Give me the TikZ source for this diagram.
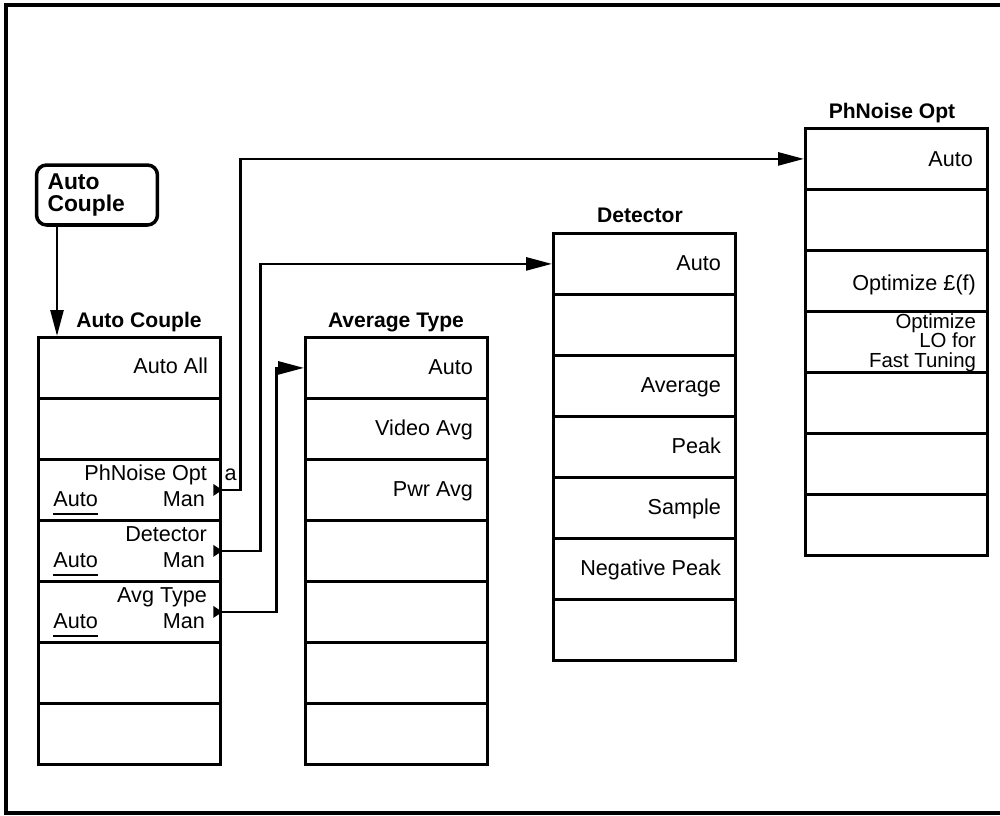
\documentclass[tikz,border=0pt]{standalone}
\usepackage{fontspec}
\setmainfont{Liberation Sans}
\usetikzlibrary{arrows.meta,positioning,calc}
\tikzset{
  softkey/.style={draw,line width=1.6pt,minimum width=3.65cm,minimum height=1.22cm,inner sep=0pt,anchor=north west},
  keytxt/.style={font=\fontsize{12.3}{10.2}\selectfont,inner sep=0pt,anchor=base east,align=right},
  menutitle/.style={font=\bfseries\fontsize{12}{14}\selectfont,inner sep=0pt,anchor=base},
  hardkey/.style={draw,line width=2pt,rounded corners=0.2cm,minimum width=2.42cm,minimum height=1.2cm,
    text width=1.98cm,align=left,inner xsep=0.22cm,font=\bfseries\fontsize{13}{12}\selectfont},
  link/.style={line width=1.5pt,-{Triangle[length=0.52cm,width=0.26cm]}}
}
\begin{document}
\begin{tikzpicture}[x=0.02cm,y=-0.02cm]
\useasboundingbox (0,0) rectangle (1000,815);
\draw[line width=2.6pt] (1000,5) -- (6,5) -- (6,813) -- (1000,813);
\foreach \i in {1,...,7}{
  \node[softkey] (ac\i) at (37,{336+61*(\i-1)}) {};
  \node[softkey] (at\i) at (304,{336+61*(\i-1)}) {};
  \node[softkey] (det\i) at (552,{232+61*(\i-1)}) {};
  \node[softkey] (pn\i) at (804,{127+61*(\i-1)}) {};
}
\node[menutitle] (acTitle) at (139,327) {Auto Couple};
\node[menutitle] (atTitle) at (396,327) {Average Type};
\node[menutitle] (detTitle) at (640,222) {Detector};
\node[menutitle] (pnTitle) at (892,118) {PhNoise Opt};
\node[hardkey] (btn) at (97,195) {Auto\\Couple};
\coordinate (drop) at ($(ac1.north west)+(20,0)$);
\draw[link] (btn.south -| drop) -- (drop);
\node[keytxt] (acAll) at ($(ac1.north east)+(-14,37)$) {Auto All};
\foreach \r/\t in {3/PhNoise Opt,4/Detector,5/Avg Type}{
  \node[keytxt] (acTop\r) at ($(ac\r.north east)+(-15,22)$) {\t};
  \node[keytxt] (acMan\r) at ($(ac\r.north east)+(-17,48)$) {Man};
  \node[keytxt,anchor=base west] (acAuto\r) at ($(ac\r.north west)+(16,48)$) {Auto};
  \draw[line width=1.1pt] ($(acAuto\r.base west)+(0,8)$) -- ($(acAuto\r.base east)+(0,8)$);
  \fill (ac\r.east) -- ++(-9,-6) -- ++(0,12) -- cycle;
}
\node[keytxt,anchor=base west] (acMark) at ($(ac3.north east)+(2,22)$) {a};
\foreach \r/\t in {1/Auto,2/Video Avg,3/Pwr Avg}{
  \node[keytxt] (atKey\r) at ($(at\r.north east)+(-16,38)$) {\t};
}
\foreach \r/\t in {1/Auto,3/Average,4/Peak,5/Sample,6/Negative Peak}{
  \node[keytxt] (detKey\r) at ($(det\r.north east)+(-16,38)$) {\t};
}
\node[keytxt] (pnKey1) at ($(pn1.north east)+(-16,39)$) {Auto};
\node[keytxt] (pnKey3) at ($(pn3.north east)+(-13,41)$) {Optimize £(f)};
\node[keytxt,anchor=north east,font=\fontsize{11.6}{11.2}\selectfont] (pnKey4) at ($(pn4.north east)+(-13,3)$) {Optimize\\LO for\\Fast Tuning};
\draw[link] (ac3.east) -- ++(18,0) |- (pn1.west);
\draw[link] (ac4.east) -- ++(38,0) |- (det1.west);
\draw[link] (ac5.east) -- ++(54,0) |- (at1.west);
\end{tikzpicture}
\end{document}
